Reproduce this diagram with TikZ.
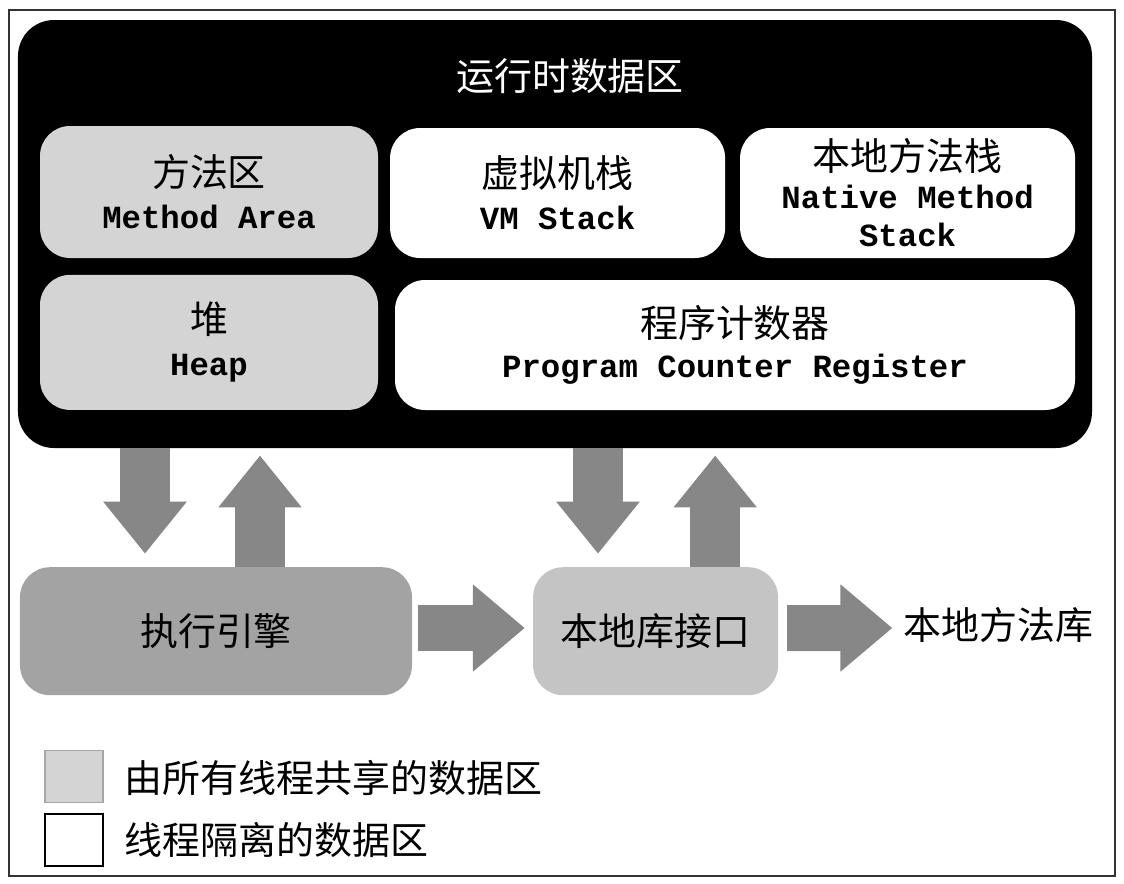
\documentclass[tikz,border=0pt]{standalone}
\usepackage{fontspec}
\setmainfont{Noto Sans CJK SC}
\setmonofont{Liberation Mono}
\usepackage{tikz}
\usetikzlibrary{arrows.meta, positioning, calc}

\definecolor{sharedgray}{RGB}{212,212,212}
\definecolor{enginegray}{RGB}{163,163,163}
\definecolor{ifacegray}{RGB}{196,196,196}
\definecolor{arrowgray}{RGB}{135,135,135}
\newcommand{\engl}{\fontsize{23}{28}\selectfont\ttfamily\bfseries}

\begin{document}
\begin{tikzpicture}[
    zh/.style={font=\fontsize{27}{30}\selectfont},
    area/.style={rectangle, rounded corners=0.75cm, text centered, align=center, zh},
    shared/.style={area, fill=sharedgray},
    private/.style={area, fill=white},
    unit/.style={rectangle, rounded corners=0.75cm, text centered, zh, minimum height=3.2cm},
    fatarrow/.style={arrowgray, line width=1.25cm, -{Triangle[width=2cm,length=1.3cm]}},
    siderow/.style={arrowgray, line width=1.15cm, -{Triangle[width=2.1cm,length=1.3cm]}},
    keybox/.style={rectangle, minimum width=1.45cm, minimum height=1.3cm, line width=1.2pt}
]
\useasboundingbox (0,0) rectangle (28.1,-22.1);
\draw [line width=1pt, black!80] (0.225,-0.25) rectangle (27.875,-21.9);

% runtime data area
\node (runtime) [rectangle, rounded corners=0.9cm, fill=black, minimum width=26.85cm, minimum height=10.7cm] at (13.875,-5.85) {};
\node (title) [white, zh] at (14.25,-1.9) {运行时数据区};

\node (method) [shared, minimum width=8.45cm, minimum height=3.3cm] at (5.225,-4.8) {方法区\\\engl Method Area};
\node (vmstack) [private, minimum width=8.375cm, minimum height=3.25cm] at (13.94,-4.825) {虚拟机栈\\\engl VM Stack};
\node (native) [private, minimum width=8.375cm, minimum height=3.25cm, font=\fontsize{27}{27}\selectfont] at (22.69,-4.825) {本地方法栈\\\engl Native Method\\\engl Stack};
\node (heap) [shared, minimum width=8.45cm, minimum height=3.375cm] at (5.225,-8.56) {堆\\\engl Heap};
\node (pc) [private, minimum width=17cm, minimum height=3.25cm, font=\fontsize{27}{28}\selectfont] at (18.375,-8.625) {程序计数器\\\engl Program Counter Register};

% engine and native interface
\node (engine) [unit, fill=enginegray, minimum width=9.8cm] at (5.4,-15.78) {执行引擎};
\node (iface) [unit, fill=ifacegray, minimum width=6.125cm] at (16.39,-15.78) {本地库接口};
\node (library) [zh, right=3.0cm of iface, yshift=0.15cm] {本地方法库};

\draw [fatarrow, shorten >=0.33cm] ([xshift=-1.775cm]engine.north |- runtime.south) -- ([xshift=-1.775cm]engine.north);
\draw [fatarrow, shorten >=0.18cm] ([xshift=1.1cm]engine.north) -- ([xshift=1.1cm]engine.north |- runtime.south);
\draw [fatarrow, shorten >=0.33cm] ([xshift=-1.44cm]iface.north |- runtime.south) -- ([xshift=-1.44cm]iface.north);
\draw [fatarrow, shorten >=0.18cm] ([xshift=1.49cm]iface.north) -- ([xshift=1.49cm]iface.north |- runtime.south);
\draw [siderow, shorten <=0.15cm, shorten >=0.2cm] ([yshift=0.08cm]engine.east) -- ([yshift=0.08cm]iface.west);
\draw [siderow, shorten <=0.22cm, shorten >=0.15cm] ([yshift=0.08cm]iface.east) -- ([yshift=-0.07cm]library.west);

% legend
\node (sharedkey) [keybox, fill=sharedgray, draw=black!35] at (1.85,-19.41) {};
\node (privatekey) [keybox, fill=white, draw=black] at (1.85,-21.0) {};
\node (sharedtext) [zh, anchor=west] at (3.0,-19.45) {由所有线程共享的数据区};
\node (privatetext) [zh, anchor=west] at (3.0,-21.0) {线程隔离的数据区};

\end{tikzpicture}
\end{document}
